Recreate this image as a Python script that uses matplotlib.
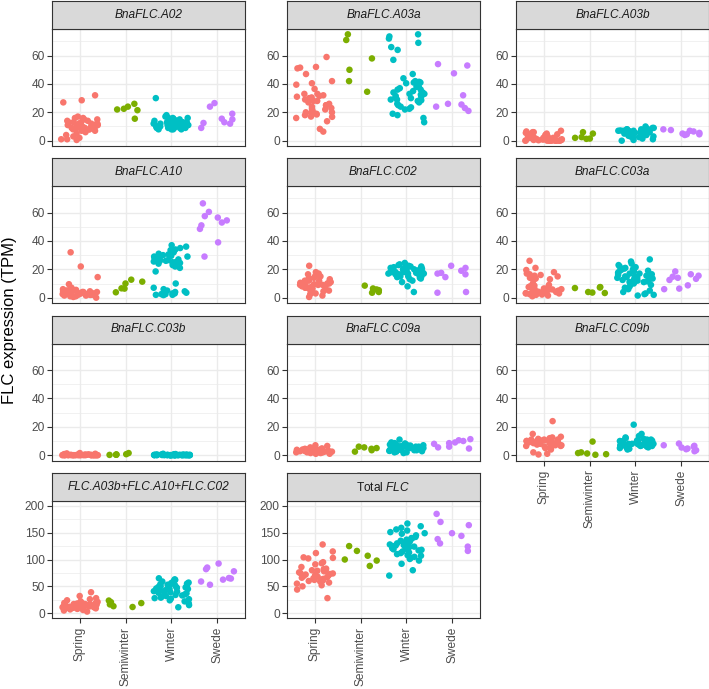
import numpy as np
import matplotlib
matplotlib.use("Agg")
import matplotlib.pyplot as plt

plt.rcParams['font.family'] = ['Liberation Sans', 'DejaVu Sans']
plt.rcParams['mathtext.fontset'] = 'custom'
plt.rcParams['mathtext.rm'] = 'Liberation Sans'
plt.rcParams['mathtext.it'] = 'Liberation Sans:italic'

groups = ['Spring', 'Semiwinter', 'Winter', 'Swede']
colors = ['#F8766D', '#7CAE00', '#00BFC4', '#C77CFF']

# values, one list per group: Spring, Semiwinter, Winter, Swede
a02 = [
    [32, 27, 28.5, 16, 17, 15, 14, 13, 13, 12, 12, 11, 11, 10, 10, 10, 9, 9, 8, 8,
     7, 6, 5, 4, 3, 2, 1, 1, 0.5, 12, 14, 9, 11, 13, 10, 15, 7, 12, 8, 16],
    [26, 24, 22.5, 22, 21.5, 15.5],
    [30, 18, 17, 16, 16, 15, 15, 14, 14, 13, 13, 13, 12, 12, 12, 11, 11, 11, 11, 10,
     10, 10, 10, 9, 9, 9, 8, 8, 8, 12, 13, 14, 11, 10, 9, 15, 12, 11, 10, 13, 16, 9, 8, 12],
    [26.5, 24, 19, 15.5, 15, 13, 12.5, 12, 9],
]
a03a = [
    [59, 52, 51, 51.5, 47, 42, 40.5, 39.5, 36.5, 33, 32, 31.5, 31, 30.5, 30, 29, 28, 27,
     26, 25, 24, 23, 22.5, 22, 21, 20, 19.5, 19, 18.5, 18, 17, 16.8, 16, 13.7, 8.3, 6.4,
     20, 28, 33, 25],
    [75, 71, 58, 50, 42, 34.5],
    [75, 73.5, 72, 69, 66, 64, 57, 47, 44, 42, 41.5, 41, 41, 40.5, 38, 37, 36, 35, 34, 33,
     32.5, 31.5, 30.5, 30, 29, 28.5, 28, 27, 26, 24, 23.5, 22.5, 22, 19, 18, 16, 13, 34,
     31, 25, 36, 38, 29, 33],
    [54, 53, 47.5, 32, 26, 25.5, 24, 23, 21],
]
a03b = [
    [7, 6, 6, 5.5, 5, 5, 4.5, 4, 3, 3, 2.5, 2, 2, 1.5, 1.5, 1, 1, 1, 0.5, 0.5, 0.5, 0,
     0, 0, 0, 0, 0, 0, 0, 0, 0.3, 0.8, 1.2, 2, 3.5, 4, 6.5, 0, 0.2, 0.1],
    [2.5, 1.3, 1.5, 2, 5, 6],
    [10, 9, 8.5, 8, 8, 7.5, 7, 7, 7, 6.5, 6.5, 6, 6, 6, 5.5, 5, 5, 5, 4.5, 4, 4, 3.5, 3,
     2.5, 1.5, 1, 0.5, 0, 7, 8, 6, 5, 4, 7, 6, 9, 5.5, 3, 2, 6.8, 7.2, 5.2],
    [8, 7.5, 7, 6.5, 5.5, 5, 4.5, 4.5, 4],
]
a10 = [
    [32, 22, 14.5, 9.5, 7, 6.5, 6, 5.5, 5, 5, 4.5, 4.5, 4, 4, 4, 3.5, 3.5, 3.5, 3, 3, 3,
     3, 2.5, 2.5, 2.5, 2, 2, 2, 1.5, 1.5, 1, 1, 0.5, 0, 4, 3, 2, 5, 3.5, 2.8],
    [12.7, 11.3, 10, 6.6, 6.4, 3.8],
    [37, 36, 35, 34, 33.5, 32, 31, 30.5, 30, 29.5, 29, 28.5, 28, 27.5, 27, 26.5, 26, 26,
     25.5, 25, 25, 24.5, 24, 24, 23.5, 23, 22, 21, 18.5, 10, 7, 6, 5, 4.5, 4, 3.5, 3, 3,
     2.5, 2.5, 2, 2, 1.8, 29, 27],
    [66.5, 60.5, 57.5, 56.5, 54.5, 53, 51, 48.5, 39, 29],
]
c02 = [
    [22.5, 18, 17, 16.5, 15.5, 15, 14, 13.5, 13, 12.5, 12, 12, 11.5, 11, 11, 10.5, 10,
     10, 9.5, 9, 9, 8.5, 8, 8, 7.5, 7, 7, 6.5, 6, 5.5, 5, 4.5, 4, 3, 2.5, 1.5, 0.5, 10, 9, 12],
    [8.5, 6.5, 5.8, 5.3, 4, 3.5],
    [24.5, 23.5, 23, 22.5, 22, 21.5, 21, 21, 20.5, 20, 20, 19.5, 19.5, 19, 19, 18.5, 18.5,
     18, 18, 17.5, 17.5, 17, 17, 16.5, 16.5, 16, 16, 15.5, 15, 15, 14.5, 14, 13.5, 13, 12,
     11, 8, 4, 22, 19, 17, 15, 20, 18],
    [22.5, 21, 19, 17.5, 17, 16.5, 14.5, 4, 3.5],
]
c03a = [
    [26, 21, 19.5, 18, 17, 16.5, 16, 15.5, 15, 14, 13.5, 13, 12.5, 10, 9, 8.5, 8, 7.5, 7,
     6.5, 6.5, 6, 6, 5.5, 5, 5, 4.5, 4, 4, 3.5, 3, 3, 2.5, 2, 1.5, 1, 5.8, 4.2, 3.2, 2.2],
    [7.5, 7.2, 6.8, 4, 3.6, 3.3],
    [27, 25.5, 24, 23, 22, 21.5, 21, 20.5, 20, 19.5, 19, 18.5, 18, 17.5, 17, 16.5, 16,
     15.5, 15, 14.5, 14, 14, 13.5, 13, 12.5, 12, 11.5, 11, 10.5, 10, 9, 8, 7, 6, 5, 4, 3,
     2.5, 2, 1.5, 15, 13, 17, 11],
    [18.5, 16.5, 15.5, 14.8, 14, 13.3, 12.5, 8.7, 6.4, 6],
]
c03b = [
    [1.5, 1, 0.8, 0.5, 0.5, 0.3, 0.2, 0.2, 0.1, 0, 0, 0, 0, 0, 0, 0, 0, 0, 0, 0, 0.1, 0.2,
     0.3, 0.4, 0, 0, 0, 0.6, 0.9, 1.2, 0, 0, 0.1, 0, 0, 0.2, 0, 0, 0.3, 0],
    [1.5, 0.7, 0.5, 0.4, 0.3, 0.2],
    [1, 0.8, 0.6, 0.5, 0.4, 0.3, 0.2, 0.2, 0.1, 0.1, 0, 0, 0, 0, 0, 0, 0, 0, 0, 0, 0.1, 0.2,
     0.3, 0, 0, 0, 0.5, 0.7, 0, 0, 0.1, 0, 0, 0.2, 0, 0, 0.4, 0, 0, 0.1, 0, 0],
    [],
]
c09a = [
    [7, 6.5, 5, 4.5, 4.5, 4, 4, 4, 3.5, 3.5, 3.5, 3, 3, 3, 3, 3, 2.5, 2.5, 2.5, 2.5, 2, 2,
     2, 2, 2, 1.5, 1.5, 1.5, 1, 1, 3.2, 2.8, 3.8, 4.2, 2.2, 1.8, 3.6, 2.6, 4.8, 5.5],
    [6, 5.5, 5, 4.5, 3.5, 2.5],
    [11, 9, 8.5, 8, 7.5, 7.5, 7, 7, 6.5, 6.5, 6, 6, 6, 5.5, 5.5, 5, 5, 5, 4.5, 4.5, 4, 4,
     4, 3.5, 3.5, 3, 3, 2.5, 2, 2, 1.5, 6.8, 5.2, 4.2, 3.8, 6.2, 5.8, 7.2, 4.8, 3.2, 8.2, 2.8],
    [11.3, 10.5, 10, 9, 8.5, 8, 6, 5.5, 4.7],
]
c09b = [
    [24, 15, 13, 12.5, 12, 11.5, 11, 11, 10.5, 10.5, 10, 10, 10, 9.5, 9.5, 9, 9, 9, 8.5,
     8.5, 8, 8, 8, 7.5, 7.5, 7, 7, 6.5, 6.5, 6, 5.5, 5, 4, 2, 1, 0.5, 9, 10, 8, 11],
    [9.6, 2, 1.5, 1.2, 0.7, 0.3],
    [21.5, 15, 13.5, 12.5, 12, 11.5, 11, 11, 10.5, 10.5, 10, 10, 10, 9.5, 9.5, 9, 9, 9, 9,
     8.5, 8.5, 8.5, 8, 8, 8, 7.5, 7.5, 7, 7, 7, 6.5, 6.5, 6, 6, 5.5, 5, 5, 4.5, 4, 9.2, 8.2,
     10.2, 7.8, 6.8],
    [8.2, 7, 6.6, 6, 5.4, 4.7, 4.2, 3.5, 2.8],
]
combo = [
    [39, 32, 28, 26, 24, 22, 21, 20, 19, 18, 18, 17, 17, 16, 16, 15, 15, 15, 14, 14, 14,
     13, 13, 13, 12, 12, 12, 11, 11, 10, 10, 9, 9, 8, 7, 6, 5, 3, 16, 19],
    [23.5, 20.5, 18.8, 16.3, 13, 11.5],
    [65, 63, 62, 60, 59, 57, 56, 55, 54, 53, 52, 51, 50, 49, 48, 47, 46, 45, 44, 43, 42,
     41, 40, 39, 38, 37, 36, 35, 34, 33, 32, 30, 29, 28, 27, 26, 24, 22, 18, 15, 11, 45,
     48, 52],
    [92.5, 85, 82, 78, 65.5, 64.5, 62.5, 59, 53],
]
total = [
    [128, 115, 112, 104, 103, 102, 95, 93, 91, 86, 83, 82, 81, 80, 78, 76, 75, 73, 72, 71,
     70, 69, 68, 67, 66, 65, 64, 63, 62, 61, 60, 59, 57, 55, 52, 50, 44, 28, 74, 79],
    [125, 116, 107, 100, 98, 88],
    [167, 162, 159, 156, 154, 151, 149, 148, 145, 142, 140, 139, 137, 135, 133, 132, 130,
     129, 127, 126, 125, 124, 123, 122, 121, 120, 119, 118, 117, 115, 113, 112, 110, 108,
     107, 105, 103, 101, 98, 92, 80, 70, 128, 120],
    [185, 170, 164, 149, 144, 138, 130, 124, 116],
]

titles = ['BnaFLC.A02', 'BnaFLC.A03a', 'BnaFLC.A03b',
          'BnaFLC.A10', 'BnaFLC.C02', 'BnaFLC.C03a',
          'BnaFLC.C03b', 'BnaFLC.C09a', 'BnaFLC.C09b',
          'FLC.A03b+FLC.A10+FLC.C02', r'Total $\mathit{FLC}$']
datasets = [a02, a03a, a03b, a10, c02, c03a, c03b, c09a, c09b, combo, total]

W, H = 709, 689
col_x = [52, 287, 516]
panel_w = 193
row_top = [1, 158, 315.5, 473]
strip_h = 28
panel_h = 117


def jitter(n, seed):
    # ggplot-style jitter, deterministic
    i = np.arange(n) + 1
    u = (np.sin(i * 12.9898 + seed * 78.233) * 43758.5453) % 1.0
    return (u - 0.5) * 0.8


fig = plt.figure(figsize=(W / 100, H / 100), dpi=100)

for idx, (title, data) in enumerate(zip(titles, datasets)):
    r, c = divmod(idx, 3)
    x0 = col_x[c]
    top = row_top[r]
    ax = fig.add_axes([x0 / W, 1 - (top + strip_h + panel_h) / H, panel_w / W, panel_h / H])
    sax = fig.add_axes([x0 / W, 1 - (top + strip_h) / H, panel_w / W, strip_h / H])

    # strip
    sax.set_facecolor('#D9D9D9')
    sax.set_xticks([])
    sax.set_yticks([])
    for s in sax.spines.values():
        s.set_color('#333333')
        s.set_linewidth(0.8)
    style = 'normal' if title.startswith('Total') else 'italic'
    sax.text(0.5, 0.5, title, ha='center', va='center', fontsize=8.6,
             style=style, color='#1A1A1A', transform=sax.transAxes)

    # panel
    if r < 3:
        ax.set_ylim(-3.75, 78.75)
        ax.set_yticks([0, 20, 40, 60])
        ax.set_yticks([10, 30, 50, 70], minor=True)
    else:
        ax.set_ylim(-9, 209)
        ax.set_yticks([0, 50, 100, 150, 200])
        ax.set_yticks([25, 75, 125, 175], minor=True)
    ax.set_xlim(0.4, 4.6)
    ax.set_xticks([1, 2, 3, 4])
    ax.grid(which='major', color='#EBEBEB', linewidth=1.0)
    ax.grid(which='minor', axis='y', color='#EBEBEB', linewidth=0.5)
    ax.set_axisbelow(True)
    ax.tick_params(which='minor', length=0)
    ax.tick_params(which='major', length=3.5, width=0.8, color='#333333',
                   labelsize=8.6, labelcolor='#4D4D4D', pad=1.8)
    ax.tick_params(axis='x', pad=3)
    for s in ax.spines.values():
        s.set_color('#333333')
        s.set_linewidth(0.8)

    if r == 3 or idx == 8:
        ax.set_xticklabels(groups, rotation=90, va='top', ha='center')
    else:
        ax.tick_params(axis='x', length=0, labelbottom=False)

    for k, vals in enumerate(data):
        vals = np.asarray(vals, dtype=float)
        if len(vals) == 0:
            continue
        ax.scatter(k + 1 + jitter(len(vals), idx * 4 + k), vals, s=22,
                   color=colors[k], edgecolors='none', zorder=3)

fig.text(9.5 / W, 1 - 320 / H, 'FLC expression (TPM)', rotation=90,
         ha='center', va='center', fontsize=12, color='black')

fig.savefig('out.png', dpi=100)
